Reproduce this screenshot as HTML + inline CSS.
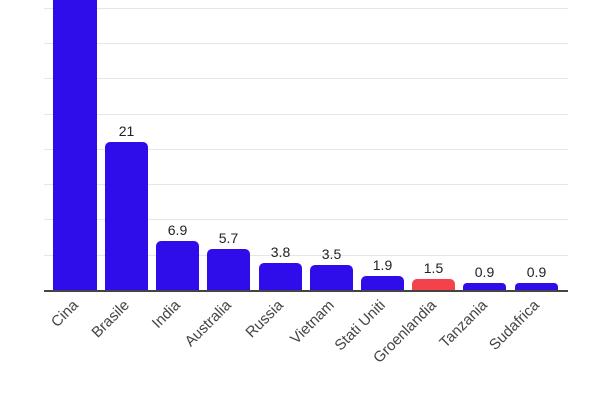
<!DOCTYPE html>
<html><head><style>body{margin:0;background:#fff}svg{display:block}</style></head><body>
<svg width="600" height="400" xmlns="http://www.w3.org/2000/svg" font-family="Liberation Sans, sans-serif">
<g stroke="#e6e6e6" stroke-width="1">
<line x1="44" x2="568" y1="8.5" y2="8.5"/><line x1="44" x2="568" y1="43.5" y2="43.5"/><line x1="44" x2="568" y1="78.5" y2="78.5"/><line x1="44" x2="568" y1="114.5" y2="114.5"/><line x1="44" x2="568" y1="149.5" y2="149.5"/><line x1="44" x2="568" y1="184.5" y2="184.5"/><line x1="44" x2="568" y1="219.5" y2="219.5"/><line x1="44" x2="568" y1="255.5" y2="255.5"/>
</g>
<g fill="#2f0deb">
<path d="M53,290V-10H97V290Z"/>
<path d="M105,290V147a5,5 0 0 1 5,-5H143a5,5 0 0 1 5,5V290Z"/>
<path d="M156,290V246a5,5 0 0 1 5,-5H194a5,5 0 0 1 5,5V290Z"/>
<path d="M207,290V254a5,5 0 0 1 5,-5H245a5,5 0 0 1 5,5V290Z"/>
<path d="M259,290V268a5,5 0 0 1 5,-5H297a5,5 0 0 1 5,5V290Z"/>
<path d="M310,290V270a5,5 0 0 1 5,-5H348a5,5 0 0 1 5,5V290Z"/>
<path d="M361,290V281a5,5 0 0 1 5,-5H399a5,5 0 0 1 5,5V290Z"/>
<path d="M412,290V284a5,5 0 0 1 5,-5H450a5,5 0 0 1 5,5V290Z" fill="#f5414b"/>
<path d="M463,290V287a4,4 0 0 1 4,-4H502a4,4 0 0 1 4,4V290Z"/>
<path d="M515,290V287a4,4 0 0 1 4,-4H554a4,4 0 0 1 4,4V290Z"/>
</g>
<line x1="44" x2="568" y1="291" y2="291" stroke="#444" stroke-width="2"/>
<g font-size="14" fill="#222" text-anchor="middle">
<text x="126.5" y="136">21</text><text x="177.5" y="235">6.9</text><text x="228.5" y="243">5.7</text><text x="280.5" y="257">3.8</text><text x="331.5" y="259">3.5</text><text x="382.5" y="270">1.9</text><text x="433.5" y="273">1.5</text><text x="484.5" y="277">0.9</text><text x="536.5" y="277">0.9</text>
</g>
<g font-size="15" fill="#444" text-anchor="end">
<text transform="translate(79,306) rotate(-45)">Cina</text>
<text transform="translate(130,306) rotate(-45)">Brasile</text>
<text transform="translate(181,306) rotate(-45)">India</text>
<text transform="translate(232,306) rotate(-45)">Australia</text>
<text transform="translate(284,306) rotate(-45)">Russia</text>
<text transform="translate(335,306) rotate(-45)">Vietnam</text>
<text transform="translate(386,306) rotate(-45)">Stati Uniti</text>
<text transform="translate(437,306) rotate(-45)">Groenlandia</text>
<text transform="translate(488,306) rotate(-45)">Tanzania</text>
<text transform="translate(540,306) rotate(-45)">Sudafrica</text>
</g>
</svg>
</body></html>
